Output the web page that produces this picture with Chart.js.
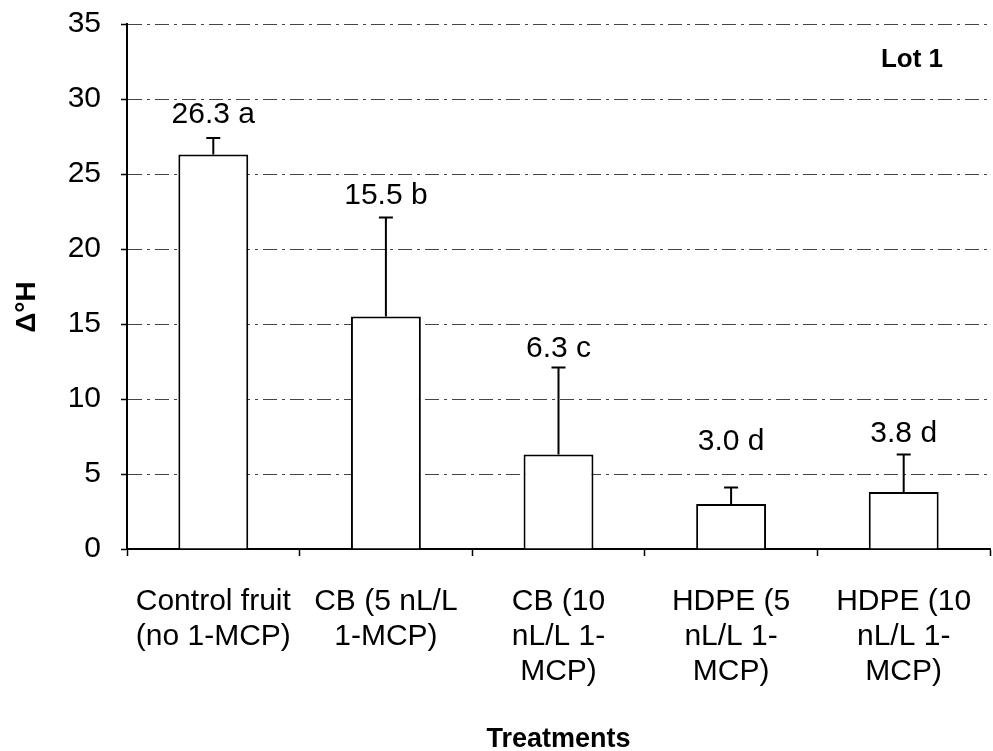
<!DOCTYPE html>
<html>
<head>
<meta charset="utf-8">
<script src="https://cdn.jsdelivr.net/npm/chart.js@4"></script>
<style>
  html, body { margin: 0; padding: 0; background: #fff; }
  #wrap { width: 993px; height: 751px; }
</style>
</head>
<body>
<div id="wrap"><canvas id="chart" width="993" height="751"></canvas></div>
<script>
// Treatment groups (multi-line axis labels)
const treatments = [
  ["Control fruit", "(no 1-MCP)"],
  ["CB (5 nL/L", "1-MCP)"],
  ["CB (10", "nL/L 1-", "MCP)"],
  ["HDPE (5", "nL/L 1-", "MCP)"],
  ["HDPE (10", "nL/L 1-", "MCP)"]
];
// Mean hue angle change per treatment
const hueChange = [26.3, 15.5, 6.3, 3.0, 3.8];
// Upper error bar length (standard deviation)
const errorUp = [1.1, 6.6, 5.8, 1.1, 2.5];
// Mean separation letters
const letters = ["a", "b", "c", "d", "d"];
// Value axis range
const yMin = 0, yMax = 35, yStep = 5;

const FONT = "'Liberation Sans', Arial, Helvetica, sans-serif";

// Upper-only error bars with a short cap
const errorBars = {
  id: 'errorBars',
  afterDatasetsDraw(chart) {
    const { ctx, scales: { y } } = chart;
    const meta = chart.getDatasetMeta(0);
    ctx.save();
    ctx.strokeStyle = '#000';
    ctx.lineWidth = 2;
    meta.data.forEach((bar, i) => {
      const yTop = y.getPixelForValue(hueChange[i]);
      const yErr = y.getPixelForValue(hueChange[i] + errorUp[i]);
      ctx.beginPath();
      ctx.moveTo(bar.x, yTop);
      ctx.lineTo(bar.x, yErr);
      ctx.moveTo(bar.x - 7, yErr);
      ctx.lineTo(bar.x + 7, yErr);
      ctx.stroke();
    });
    ctx.restore();
  }
};

// Value + letter labels above each error bar, plus the panel tag and y title
const annotations = {
  id: 'annotations',
  afterDraw(chart, args, opts) {
    const { ctx, scales: { y }, chartArea } = chart;
    const meta = chart.getDatasetMeta(0);
    ctx.save();
    ctx.fillStyle = '#000';
    ctx.textAlign = 'center';
    ctx.textBaseline = 'middle';
    ctx.font = `30px ${FONT}`;
    meta.data.forEach((bar, i) => {
      const yErr = y.getPixelForValue(hueChange[i] + errorUp[i]);
      ctx.fillText(hueChange[i].toFixed(1) + ' ' + letters[i], bar.x, yErr - opts.lift[i]);
    });
    // panel tag
    ctx.font = `bold 26px ${FONT}`;
    ctx.textAlign = 'right';
    ctx.fillText('Lot 1', chartArea.right - 47, 60);
    // y axis title
    ctx.translate(27, 307);
    ctx.rotate(-Math.PI / 2);
    ctx.textAlign = 'center';
    ctx.font = `bold 28px ${FONT}`;
    ctx.fillText('\u0394\u00B0H', 0, 0);
    ctx.restore();
  }
};

new Chart(document.getElementById('chart'), {
  type: 'bar',
  data: {
    labels: treatments,
    datasets: [{
      data: hueChange,
      backgroundColor: '#ffffff',
      borderColor: '#000000',
      borderWidth: 2,
      categoryPercentage: 1,
      barPercentage: 0.405
    }]
  },
  options: {
    responsive: false,
    devicePixelRatio: 1,
    animation: false,
    layout: { padding: { top: 24, right: 3, left: 0, bottom: 0 } },
    plugins: {
      legend: { display: false },
      tooltip: { enabled: false },
      annotations: { lift: [23, 22, 19, 46, 21] }
    },
    scales: {
      x: {
        offset: true,
        afterFit(scale) {
          scale.height = 202;
          scale.paddingLeft = 0;
          scale.paddingRight = 0;
        },
        grid: {
          offset: true,
          drawOnChartArea: false,
          drawTicks: true,
          tickLength: 7,
          tickWidth: 1.5,
          tickColor: (c) => (c.index === treatments.length ? 'rgba(0,0,0,0)' : '#000')
        },
        border: { display: true, color: '#000', width: 2 },
        ticks: {
          color: '#000',
          font: { family: FONT, size: 30, lineHeight: 1.17 },
          maxRotation: 0,
          autoSkip: false,
          padding: 28
        },
        title: {
          display: true,
          text: 'Treatments',
          color: '#000',
          font: { family: FONT, size: 27, weight: 'bold', lineHeight: 0.85 },
          padding: 0
        }
      },
      y: {
        min: yMin,
        max: yMax,
        afterFit(scale) {
          scale.width = 127;
          scale.paddingTop = 0;
          scale.paddingBottom = 0;
        },
        grid: {
          color: '#444',
          lineWidth: 1,
          drawTicks: true,
          tickLength: 6,
          tickWidth: 1.5,
          tickColor: '#000'
        },
        border: { display: true, color: '#000', width: 2, dash: [14, 5, 3, 5] },
        ticks: {
          stepSize: yStep,
          color: '#000',
          font: { family: FONT, size: 30 },
          padding: 20
        }
      }
    }
  },
  plugins: [errorBars, annotations]
});
</script>
</body>
</html>
